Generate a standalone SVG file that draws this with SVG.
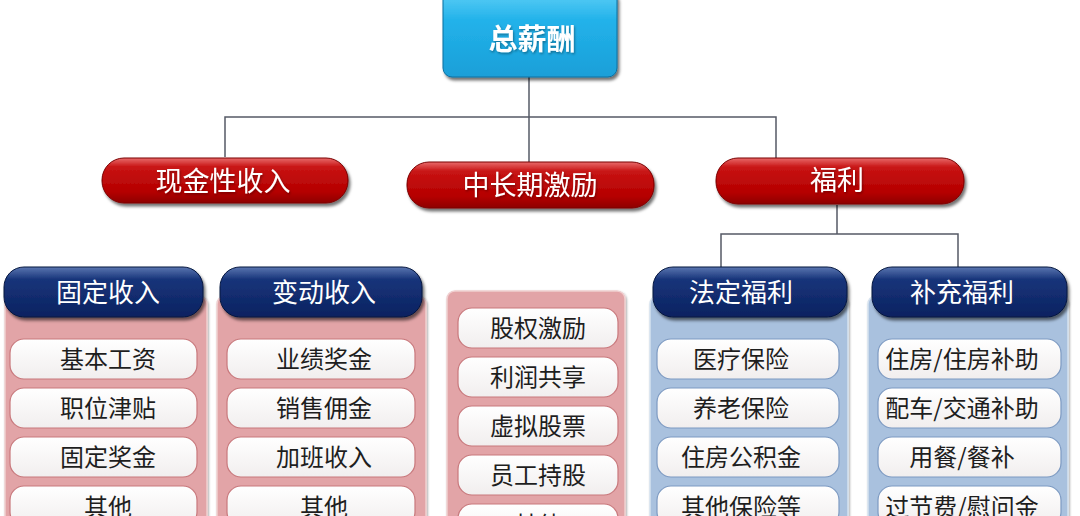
<svg xmlns="http://www.w3.org/2000/svg" width="1080" height="516" viewBox="0 0 1080 516">
<defs>
<linearGradient id="gTop" x1="0" y1="0" x2="0" y2="1">
<stop offset="0" stop-color="#5fd0f7"/><stop offset="0.35" stop-color="#22b2ea"/><stop offset="1" stop-color="#1a9fd8"/>
</linearGradient>
<linearGradient id="gRed" x1="0" y1="0" x2="0" y2="1">
<stop offset="0" stop-color="#e86a6a"/><stop offset="0.2" stop-color="#c81414"/><stop offset="0.75" stop-color="#b50000"/><stop offset="1" stop-color="#8e0000"/>
</linearGradient>
<linearGradient id="gNavy" x1="0" y1="0" x2="0" y2="1">
<stop offset="0" stop-color="#5a76b0"/><stop offset="0.25" stop-color="#17347a"/><stop offset="1" stop-color="#0b2260"/>
</linearGradient>
<linearGradient id="gItem" x1="0" y1="0" x2="0" y2="1">
<stop offset="0" stop-color="#ffffff"/><stop offset="1" stop-color="#f1eeee"/>
</linearGradient>
<filter id="sh" x="-10%" y="-20%" width="125%" height="150%">
<feDropShadow dx="2" dy="3" stdDeviation="1.5" flood-color="#000" flood-opacity="0.55"/>
</filter>
<filter id="shs" x="-10%" y="-20%" width="125%" height="150%">
<feDropShadow dx="1" dy="1.5" stdDeviation="1" flood-color="#000" flood-opacity="0.35"/>
</filter>
</defs>
<style>
text{font-family:"Noto Sans CJK SC","Noto Sans",sans-serif;text-anchor:middle;dominant-baseline:central}
.conn{fill:none;stroke:#555a66;stroke-width:1.5}
.red{fill:url(#gRed);stroke:#7a0000;stroke-width:1}
.redt{fill:#fff;font-size:27px}
.navy{fill:url(#gNavy);stroke:#06163f;stroke-width:1}
.navyt{fill:#fff;font-size:26px}
.pink{fill:#e2a4a7;stroke:#f0cfd0;stroke-width:1.5}
.blue{fill:#a9c1de;stroke:#d5e2f0;stroke-width:1.5}
.itemp{fill:url(#gItem);stroke:#c8787c;stroke-width:1.2}
.itemb{fill:url(#gItem);stroke:#7d9ac2;stroke-width:1.2}
.it{fill:#1e1e1e;font-size:24px}
</style>
<rect width="1080" height="516" fill="#ffffff"/>
<g id="connectors">
<path class="conn" d="M529 77 V162" stroke="#4d5b85"/>
<path class="conn" d="M225 157 V117 H776 V158"/>
<path class="conn" d="M837 205 V234 M721 268 V234 H958 V268"/>
</g>
<g id="n-total">
<rect x="443" y="-10" width="174" height="87" rx="9" fill="url(#gTop)" stroke="#0d6fa0" filter="url(#sh)"/>
<text x="532" y="37" fill="#fff" font-size="29" font-weight="bold" filter="url(#shs)">总薪酬</text>
</g>
<g id="n-cash">
<rect class="red" x="102" y="158" width="246" height="45" rx="22" filter="url(#sh)"/>
<text class="redt" x="223" y="179" filter="url(#shs)">现金性收入</text>
</g>
<g id="n-long">
<rect class="red" x="407" y="162" width="247" height="46" rx="22" filter="url(#sh)"/>
<text class="redt" x="530" y="183" filter="url(#shs)">中长期激励</text>
</g>
<g id="n-welfare">
<rect class="red" x="716" y="158" width="248" height="46" rx="22" filter="url(#sh)"/>
<text class="redt" x="837" y="178" filter="url(#shs)">福利</text>
</g>
<g id="n-fixed">
<rect class="pink" x="5" y="296" width="202" height="240" rx="8" filter="url(#shs)"/>
<rect class="navy" x="4" y="267" width="199" height="50" rx="20" filter="url(#sh)"/>
<text class="navyt" x="108" y="290">固定收入</text>
<rect class="itemp" x="10" y="339" width="187" height="40" rx="14"/><text class="it" x="108" y="357">基本工资</text>
<rect class="itemp" x="10" y="388" width="187" height="40" rx="14"/><text class="it" x="108" y="406">职位津贴</text>
<rect class="itemp" x="10" y="437" width="187" height="40" rx="14"/><text class="it" x="108" y="455">固定奖金</text>
<rect class="itemp" x="10" y="486" width="187" height="40" rx="14"/><text class="it" x="108" y="505">其他</text>
</g>
<g id="n-variable">
<rect class="pink" x="217" y="296" width="209" height="240" rx="8" filter="url(#shs)"/>
<rect class="navy" x="220" y="267" width="202" height="50" rx="20" filter="url(#sh)"/>
<text class="navyt" x="324" y="290">变动收入</text>
<rect class="itemp" x="227" y="339" width="188" height="40" rx="14"/><text class="it" x="324" y="357">业绩奖金</text>
<rect class="itemp" x="227" y="388" width="188" height="40" rx="14"/><text class="it" x="324" y="406">销售佣金</text>
<rect class="itemp" x="227" y="437" width="188" height="40" rx="14"/><text class="it" x="324" y="455">加班收入</text>
<rect class="itemp" x="227" y="486" width="188" height="40" rx="14"/><text class="it" x="324" y="505">其他</text>
</g>
<g id="n-incentive">
<rect class="pink" x="447" y="291" width="178" height="245" rx="8" filter="url(#shs)"/>
<rect class="itemp" x="458" y="308" width="160" height="40" rx="14"/><text class="it" x="538" y="326">股权激励</text>
<rect class="itemp" x="458" y="357" width="160" height="40" rx="14"/><text class="it" x="538" y="375">利润共享</text>
<rect class="itemp" x="458" y="406" width="160" height="40" rx="14"/><text class="it" x="538" y="424">虚拟股票</text>
<rect class="itemp" x="458" y="455" width="160" height="40" rx="14"/><text class="it" x="538" y="473">员工持股</text>
<rect class="itemp" x="458" y="504" width="160" height="40" rx="14"/><text class="it" x="538" y="523">其他</text>
</g>
<g id="n-statutory">
<rect class="blue" x="650" y="296" width="198" height="240" rx="8" filter="url(#shs)"/>
<rect class="navy" x="653" y="267" width="194" height="50" rx="20" filter="url(#sh)"/>
<text class="navyt" x="741" y="290">法定福利</text>
<rect class="itemb" x="657" y="339" width="182" height="40" rx="14"/><text class="it" x="741" y="357">医疗保险</text>
<rect class="itemb" x="657" y="388" width="182" height="40" rx="14"/><text class="it" x="741" y="406">养老保险</text>
<rect class="itemb" x="657" y="437" width="182" height="40" rx="14"/><text class="it" x="741" y="455">住房公积金</text>
<rect class="itemb" x="657" y="486" width="182" height="40" rx="14"/><text class="it" x="741" y="505">其他保险等</text>
</g>
<g id="n-supplement">
<rect class="blue" x="868" y="296" width="200" height="240" rx="8" filter="url(#shs)"/>
<rect class="navy" x="872" y="267" width="195" height="50" rx="20" filter="url(#sh)"/>
<text class="navyt" x="962" y="290">补充福利</text>
<rect class="itemb" x="878" y="339" width="183" height="40" rx="14"/><text class="it" x="962" y="357">住房/住房补助</text>
<rect class="itemb" x="878" y="388" width="183" height="40" rx="14"/><text class="it" x="962" y="406">配车/交通补助</text>
<rect class="itemb" x="878" y="437" width="183" height="40" rx="14"/><text class="it" x="962" y="455">用餐/餐补</text>
<rect class="itemb" x="878" y="486" width="183" height="40" rx="14"/><text class="it" x="962" y="505">过节费/慰问金</text>
</g>
</svg>
